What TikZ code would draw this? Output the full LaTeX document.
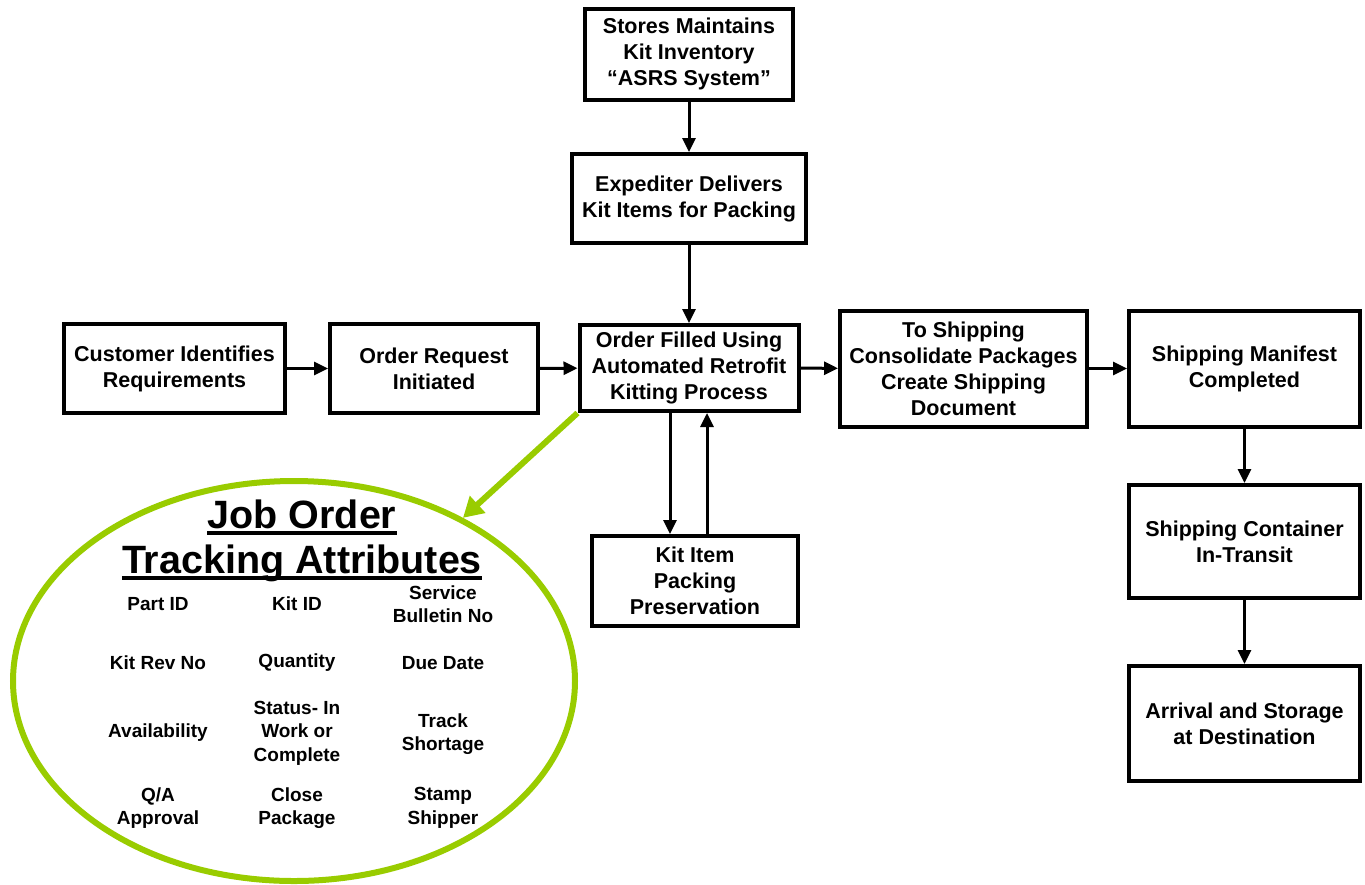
\documentclass[tikz,border=0pt]{standalone}
\usepackage{fontspec}
\setmainfont{Liberation Sans}
\usetikzlibrary{arrows.meta,shapes.geometric}
\definecolor{kitgreen}{HTML}{99CC00}

\begin{document}
\begin{tikzpicture}[x=1pt,y=-1pt]
            \tikzset{
                proc box/.style={draw,line width=4pt,align=center,inner sep=2pt,
                    font=\fontsize{21.5}{26}\selectfont\bfseries},
                attr text/.style={align=center,font=\fontsize{19}{23.5}\selectfont\bfseries},
                title text/.style={inner sep=0pt,font=\fontsize{39.5}{45}\selectfont\bfseries},
                flow/.style={line width=3pt,-{Triangle[length=14pt,width=13pt]}},
                green flow/.style={kitgreen,line width=6pt,-{Triangle[length=20pt,width=22pt]}}
            }
            \useasboundingbox (0,0) rectangle (1365,884);
            % main process boxes
            \node[proc box, minimum width=208pt, minimum height=91pt] (stores) at (689,54)
                {Stores Maintains\\Kit Inventory\\``ASRS System''};
            \node[proc box, minimum width=234pt, minimum height=89pt] (expediter) at (689,198.5)
                {Expediter Delivers\\Kit Items for Packing};
            \node[proc box, minimum width=221pt, minimum height=89pt] (customer) at (174.5,368.5)
                {Customer Identifies\\Requirements};
            \node[proc box, minimum width=208pt, minimum height=89pt] (request) at (434,368.5)
                {Order Request\\Initiated};
            \node[proc box, minimum width=219pt, minimum height=86pt] (filled) at (689,368)
                {Order Filled Using\\Automated Retrofit\\Kitting Process};
            \node[proc box, minimum width=247pt, minimum height=116pt] (toship) at (963.5,368.5)
                {To Shipping\\Consolidate Packages\\Create Shipping\\Document};
            \node[proc box, minimum width=231pt, minimum height=116pt] (manifest) at (1244.5,368.5)
                {Shipping Manifest\\Completed};
            \node[proc box, minimum width=231pt, minimum height=113pt] (container) at (1244.5,541.5)
                {Shipping Container\\In-Transit};
            \node[proc box, minimum width=231pt, minimum height=115pt] (arrival) at (1244.5,723.5)
                {Arrival and Storage\\at Destination};
            \node[proc box, minimum width=206pt, minimum height=90pt] (kititem) at (695,581)
                {Kit Item\\Packing\\Preservation};

            % tracking attributes oval
            \node[ellipse, draw=kitgreen, line width=6pt, minimum width=562pt, minimum height=400pt,
                inner sep=0pt] (oval) at (294,681) {};
            \node[title text, anchor=base] (jobtitle) at (302,528) {Job Order};
            \node[title text, anchor=base] (tracktitle) at (302,573) {Tracking Attributes};
            \draw[line width=3.5pt] ([yshift=-5pt]jobtitle.base west) -- ([yshift=-5pt]jobtitle.base east);
            \draw[line width=3.5pt] ([yshift=-5pt]tracktitle.base west) -- ([yshift=-5pt]tracktitle.base east);
            \node[attr text] (partid) at (158,604) {Part ID};
            \node[attr text] (kitid) at (297,604) {Kit ID};
            \node[attr text] (bulletin) at (443,604) {Service\\Bulletin No};
            \node[attr text] (revno) at (158,663) {Kit Rev No};
            \node[attr text] (qty) at (297,663) {Quantity};
            \node[attr text] (due) at (443,663) {Due Date};
            \node[attr text] (avail) at (158,733) {Availability};
            \node[attr text] (status) at (297,733) {Status- In\\Work or\\Complete};
            \node[attr text] (track) at (443,734) {Track\\Shortage};
            \node[attr text] (qa) at (158,808) {Q/A\\Approval};
            \node[attr text] (close) at (297,808) {Close\\Package};
            \node[attr text] (stamp) at (443,808) {Stamp\\Shipper};

            % connectors
            \draw[flow] (stores) -- (expediter);
            \draw[flow] (expediter) -- (filled);
            \draw[flow] (customer) -- (request);
            \draw[flow] (request) -- (filled);
            \draw[flow] (filled) -- (toship);
            \draw[flow] (toship) -- (manifest);
            \draw[flow] (manifest) -- (container);
            \draw[flow] (container) -- (arrival);
            \draw[flow] ([xshift=-19pt]filled.south) -- ([xshift=-19pt]filled.south |- kititem.north);
            \draw[flow] ([xshift=18pt]filled.south |- kititem.north) -- ([xshift=18pt]filled.south);
            \draw[green flow] (filled.south west) -- (oval.44);
        \end{tikzpicture}
\end{document}
